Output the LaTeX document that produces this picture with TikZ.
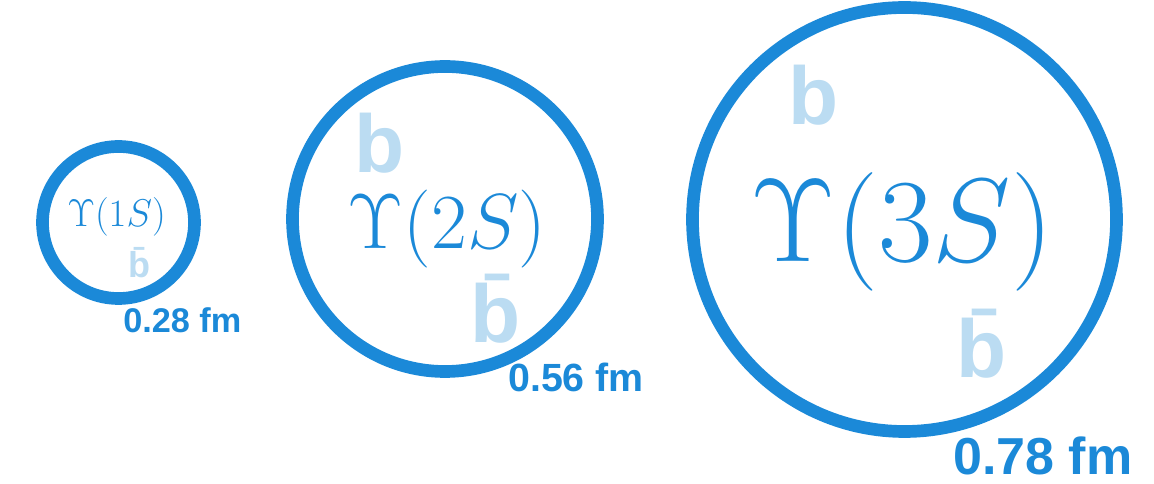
\RequirePackage{fix-cm}
\documentclass[tikz,border=0pt]{standalone}
\usepackage{fontspec}
\newfontfamily\labelfont{Liberation Sans}
\definecolor{UpsBlue}{RGB}{27,137,216}
\definecolor{QuarkBlue}{RGB}{187,220,242}

\begin{document}
\begin{tikzpicture}[x=0.75pt, y=-0.75pt,
    ring/.style={circle, draw=UpsBlue, line width=9.5pt, inner sep=0pt},
    state/.style={text=UpsBlue, anchor=base, inner sep=0pt, font=\fontsize{#1}{#1}\selectfont},
    quark/.style={text=QuarkBlue, anchor=base, inner sep=0pt, font=\labelfont\bfseries\fontsize{#1}{#1}\selectfont},
    radius label/.style={text=UpsBlue, anchor=base west, inner sep=0pt, font=\labelfont\bfseries\fontsize{#1}{#1}\selectfont}]

    \useasboundingbox (0,0) rectangle (1154,484);

    % 1S
    \node[ring, minimum size=114pt] (r1) at (118.5,222.5) {};
    \node[state=29] (u1) at (116.5,227) {$\Upsilon(1S)$};
    \node[quark=27] (bb1) at (139,278) {\=b};
    \node[radius label=25.7] (l1) at (123,333) {0.28 fm};

    % 2S
    \node[ring, minimum size=228.75pt] (r2) at (445,219) {};
    \node[quark=61.5] (b2) at (380,173) {b};
    \node[state=58.5] (u2) at (447,249) {$\Upsilon(2S)$};
    \node[quark=61.5] (bb2) at (495.5,343) {\=b};
    \node[radius label=29.5] (l2) at (508,392) {0.56 fm};

    % 3S
    \node[ring, minimum size=318pt] (r3) at (904.5,219.5) {};
    \node[quark=61.5] (b3) at (813.5,125) {b};
    \node[state=89] (u3) at (902,262) {$\Upsilon(3S)$};
    \node[quark=61.5] (bb3) at (982,378) {\=b};
    \node[radius label=39] (l3) at (953,475) {0.78 fm};
\end{tikzpicture}
\end{document}
